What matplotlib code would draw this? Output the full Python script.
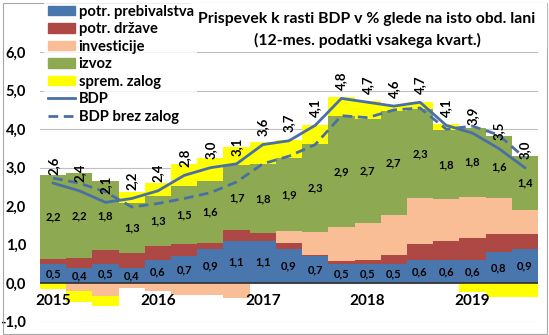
import numpy as np
import matplotlib.pyplot as plt
from matplotlib.patches import Rectangle, Patch
from matplotlib.lines import Line2D

plt.rcParams['font.family'] = ['Lato', 'DejaVu Sans']
plt.rcParams['font.weight'] = 'bold'

# četrtletja 2015Q1 - 2019Q3
quarters = np.arange(19)
years = ['2015', '2016', '2017', '2018', '2019']
year_pos = [0, 4, 8, 12, 16]

potr_preb = [0.5, 0.4, 0.5, 0.4, 0.6, 0.7, 0.9, 1.1, 1.1, 0.9, 0.7, 0.5, 0.5, 0.5, 0.6, 0.6, 0.6, 0.8, 0.9]
potr_drz = [0.12, 0.25, 0.36, 0.39, 0.37, 0.33, 0.15, 0.27, 0.20, 0.15, 0.02, 0.07, 0.10, 0.24, 0.42, 0.50, 0.57, 0.49, 0.39]
investicije = [0.0, -0.20, -0.33, -0.13, -0.20, -0.30, -0.30, -0.39, 0.0, 0.30, 0.60, 0.88, 0.96, 1.04, 1.20, 1.08, 1.07, 0.93, 0.61]
izvoz = [2.2, 2.2, 1.8, 1.3, 1.3, 1.5, 1.6, 1.7, 1.8, 1.9, 2.3, 2.9, 2.7, 2.7, 2.3, 1.8, 1.8, 1.6, 1.4]
zaloge = [-0.15, -0.28, -0.26, 0.27, 0.33, 0.57, 0.60, 0.47, 0.58, 0.48, 0.50, 0.48, 0.47, 0.12, 0.18, 0.15, -0.22, -0.35, -0.35]
bdp = [2.6, 2.4, 2.1, 2.2, 2.4, 2.8, 3.0, 3.1, 3.6, 3.7, 4.1, 4.8, 4.7, 4.6, 4.7, 4.1, 3.9, 3.5, 3.0]
bdp_brez = [2.73, 2.60, 2.37, 1.98, 2.07, 2.20, 2.35, 2.63, 3.10, 3.30, 3.60, 4.35, 4.30, 4.50, 4.55, 4.00, 4.08, 3.85, 3.25]

series = [
    ('potr. prebivalstva', potr_preb, '#4A76AE'),
    ('potr. države', potr_drz, '#AE4845'),
    ('investicije', investicije, '#F9BE95'),
    ('izvoz', izvoz, '#8DAA52'),
    ('sprem. zalog', zaloge, '#FFFF00'),
]
line_col = '#4A6FA5'


def fmt(v):
    return f'{v:.1f}'.replace('.', ',')


fig = plt.figure(figsize=(5.49, 3.35), dpi=100)
ax = fig.add_axes([40 / 549, 13.3 / 335, 498 / 549, 308 / 335])

pos_bottom = np.zeros(len(quarters))
neg_bottom = np.zeros(len(quarters))
mids = {}
for name, vals, col in series:
    vals = np.array(vals)
    bottom = np.where(vals >= 0, pos_bottom, neg_bottom)
    ax.bar(quarters, vals, width=1.0, bottom=bottom, color=col, linewidth=0, zorder=2)
    mids[name] = bottom + vals / 2
    pos_bottom = pos_bottom + np.clip(vals, 0, None)
    neg_bottom = neg_bottom + np.clip(vals, None, 0)

ax.plot(quarters, bdp, color=line_col, lw=2.0, zorder=4)
ax.plot(quarters, bdp_brez, color=line_col, lw=2.0, ls=(0, (3.5, 2)), zorder=4)
ax.axhline(0, color='#303030', lw=1.2, zorder=3)

# oznake vrednosti
for i in quarters:
    ax.text(i, mids['potr. prebivalstva'][i], fmt(potr_preb[i]), ha='center', va='center',
            fontsize=8, zorder=5)
    ax.text(i, mids['izvoz'][i], fmt(izvoz[i]), ha='center', va='center', fontsize=8, zorder=5)
    ax.annotate(fmt(bdp[i]), (i, bdp[i]), xytext=(0, 6), textcoords='offset points',
                rotation=90, ha='center', va='bottom', fontsize=9.5, zorder=5)

for y, p in zip(years, year_pos):
    ax.text(p, -0.47, y, ha='center', va='center', fontsize=11, zorder=5)

ax.set_xlim(-0.5, 18.5)
ax.set_ylim(-1, 7)
ax.set_yticks(range(-1, 7))
ax.set_yticklabels([fmt(v) for v in range(-1, 7)])
ax.set_xticks([])
ax.tick_params(axis='y', length=0, pad=10, labelsize=10.5)
ax.yaxis.grid(True, color='#BFBFBF', lw=0.8)
ax.set_axisbelow(True)
for s in ax.spines.values():
    s.set_visible(False)

# naslov z belim ozadjem
fig.patches.append(Rectangle((190 / 549, 1 - 48 / 335), 356 / 549, 45 / 335,
                             transform=fig.transFigure, color='white', zorder=2))
fig.text(367 / 549, 1 - 19 / 335, 'Prispevek k rasti BDP v % glede na isto obd. lani',
         ha='center', va='center', fontsize=11.3, zorder=3)
fig.text(367 / 549, 1 - 40 / 335, '(12-mes. podatki vsakega kvart.)',
         ha='center', va='center', fontsize=11.3, zorder=3)

handles = [Patch(color=c, label=n) for n, _, c in series]
handles += [Line2D([], [], color=line_col, lw=2.0, label='BDP'),
            Line2D([], [], color=line_col, lw=2.0, ls=(0, (3.5, 2)), label='BDP brez zalog')]
fig.legend(handles=handles, loc='upper left', bbox_to_anchor=(44 / 549, 1 - 1 / 335),
           frameon=True, facecolor='white', edgecolor='none', fancybox=False,
           fontsize=10.6, handlelength=1.85, handleheight=0.6, handletextpad=0.25,
           labelspacing=0.24, borderpad=0.25, borderaxespad=0)

fig.patches.append(Rectangle((2.5 / 549, 1.5 / 335), 544 / 549, 331 / 335,
                             transform=fig.transFigure, fill=False, ec='#A6A6A6', lw=0.8))

fig.savefig('out.png', dpi=100)
